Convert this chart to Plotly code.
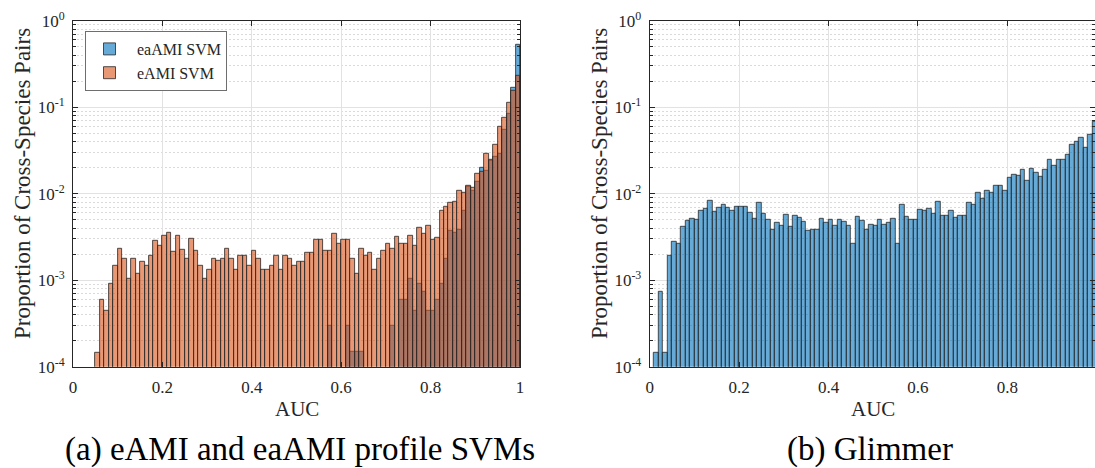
import plotly.graph_objects as go

# ---------------- data ----------------
BIN_WIDTH = 0.01
bin_left = [round(i * BIN_WIDTH, 2) for i in range(100)]

# (a) eAMI SVM (orange) proportions per AUC bin
eami_svm = [
    None, None, None, None, None, 1.47e-4, 6.0e-4, 4.4e-4, 9.0e-4, 1.47e-3,
    2.33e-3, 1.77e-3, 1.03e-3, 1.77e-3, 1.18e-3, 1.65e-3, 1.49e-3, 1.94e-3, 2.84e-3, 2.53e-3,
    3.27e-3, 3.54e-3, 2.12e-3, 3.27e-3, 2.24e-3, 1.77e-3, 2.99e-3, 2.2e-3, 1.47e-3, 1.03e-3,
    1.32e-3, 1.77e-3, 1.67e-3, 1.77e-3, 2.33e-3, 1.77e-3, 1.33e-3, 1.94e-3, 1.94e-3, 1.47e-3,
    2.2e-3, 1.77e-3, 1.32e-3, 1.32e-3, 1.47e-3, 1.94e-3, 1.32e-3, 1.94e-3, 1.76e-3, 1.46e-3,
    1.63e-3, 1.63e-3, 2.08e-3, 2.08e-3, 2.97e-3, 2.97e-3, 2.22e-3, 2.22e-3, 3.43e-3, 2.65e-3,
    2.97e-3, 2.97e-3, 1.78e-3, 1.18e-3, 2.32e-3, 1.93e-3, 2.08e-3, 1.31e-3, 1.78e-3, 2.22e-3,
    2.67e-3, 2.34e-3, 3.22e-3, 2.67e-3, 2.65e-3, 3.25e-3, 2.51e-3, 4.06e-3, 3.43e-3, 4.28e-3,
    2.97e-3, 3.08e-3, 6.43e-3, 7.14e-3, 7.87e-3, 8.01e-3, 1.07e-2, 1.04e-2, 1.24e-2, 1.17e-2,
    1.69e-2, 1.78e-2, 2.9e-2, 2.47e-2, 3.71e-2, 5.95e-2, 7.5e-2, 1.14e-1, 1.56e-1, 2.3e-1,
]

# (a) eaAMI SVM (blue) proportions per AUC bin
eaami_svm = [
    None, None, None, None, None, None, None, None, None, None,
    None, None, None, None, None, None, None, None, None, None,
    None, None, None, None, None, None, None, None, None, None,
    None, None, None, None, None, None, None, None, None, None,
    None, None, None, None, None, None, None, None, None, None,
    None, None, None, None, None, None, None, 2.95e-4, None, None,
    None, 2.95e-4, 1.48e-4, 1.48e-4, 1.48e-4, None, None, None, None, None,
    None, 2.95e-4, None, 5.9e-4, 5.88e-4, 1.03e-3, 4.39e-4, 9.0e-4, 7.4e-4, 4.39e-4,
    4.39e-4, 5.88e-4, 9.0e-4, 1.79e-3, 3.71e-3, 3.51e-3, 3.88e-3, 6.43e-3, 1.2e-2, 1.09e-2,
    1.39e-2, 2.01e-2, 1.83e-2, 2.38e-2, 2.7e-2, 2.9e-2, 5.47e-2, 8.4e-2, 1.67e-1, 5.3e-1,
]

# (b) Glimmer proportions per AUC bin
glimmer = [
    None, 1.46e-4, 7.4e-4, 1.46e-4, 1.93e-3, 2.82e-3, 2.65e-3, 4.12e-3, 4.88e-3, 5.15e-3,
    5.06e-3, 6.43e-3, 6.72e-3, 8.23e-3, 6.25e-3, 6.95e-3, 7.53e-3, 6.95e-3, 6.43e-3, 7.14e-3,
    7.0e-3, 7.14e-3, 6.04e-3, 5.19e-3, 7.8e-3, 5.88e-3, 5.06e-3, 3.85e-3, 4.63e-3, 4.27e-3,
    5.72e-3, 4.16e-3, 5.57e-3, 5.28e-3, 4.8e-3, 3.74e-3, 3.85e-3, 3.85e-3, 5.15e-3, 4.63e-3,
    5.0e-3, 4.27e-3, 5.0e-3, 4.8e-3, 4.27e-3, 2.65e-3, 5.43e-3, 4.9e-3, 3.85e-3, 4.36e-3,
    4.28e-3, 5.01e-3, 4.39e-3, 4.63e-3, 5.1e-3, 2.67e-3, 7.53e-3, 5.47e-3, 5.01e-3, 5.01e-3,
    6.6e-3, 6.43e-3, 6.78e-3, 5.88e-3, 8.01e-3, 5.57e-3, 5.57e-3, 6.37e-3, 5.28e-3, 5.57e-3,
    5.57e-3, 7.8e-3, 7.53e-3, 1.02e-2, 8.68e-3, 1.07e-2, 1.02e-2, 1.24e-2, 1.24e-2, 1.07e-2,
    1.53e-2, 1.67e-2, 1.63e-2, 1.91e-2, 1.41e-2, 1.96e-2, 1.76e-2, 1.58e-2, 1.91e-2, 2.49e-2,
    2.08e-2, 2.49e-2, 2.49e-2, 2.79e-2, 3.67e-2, 3.98e-2, 4.5e-2, 3.4e-2, 4.75e-2, 6.77e-2,
]

x_ticks_a = [0, 0.2, 0.4, 0.6, 0.8, 1]
x_labels_a = ["0", "0.2", "0.4", "0.6", "0.8", "1"]
x_ticks_b = [0, 0.2, 0.4, 0.6, 0.8]
x_labels_b = ["0", "0.2", "0.4", "0.6", "0.8"]
y_ticks = [1e-4, 1e-3, 1e-2, 1e-1, 1]
y_tick_text = ["10<sup>-4</sup>", "10<sup>-3</sup>", "10<sup>-2</sup>", "10<sup>-1</sup>", "10<sup>0</sup>"]
y_minor = [k * 10.0 ** e for e in range(-4, 0) for k in range(2, 10)]

# ---------------- style ----------------
W, H = 1095, 468
FONT = "Liberation Serif"
BLUE = "rgba(0,114,189,0.6)"
ORANGE = "rgba(217,83,25,0.6)"
EDGE = "#262626"
AXC = "#262626"

fig = go.Figure()

fig.add_trace(go.Bar(x=bin_left, y=eaami_svm, width=BIN_WIDTH, offset=0, name="eaAMI SVM",
                     marker=dict(color=BLUE, line=dict(color=EDGE, width=0.8)),
                     xaxis="x", yaxis="y"))
fig.add_trace(go.Bar(x=bin_left, y=eami_svm, width=BIN_WIDTH, offset=0, name="eAMI SVM",
                     marker=dict(color=ORANGE, line=dict(color=EDGE, width=0.8)),
                     xaxis="x", yaxis="y"))
fig.add_trace(go.Bar(x=bin_left, y=glimmer, width=BIN_WIDTH, offset=0, name="Glimmer",
                     marker=dict(color=BLUE, line=dict(color=EDGE, width=0.8)),
                     showlegend=False, xaxis="x2", yaxis="y2"))

# pixel geometry of plot areas
la_l, la_r = 73, 520
rb_l = 649.7
unit_px = la_r - la_l
top_px, bot_px = 20.7, 366.7
ydom = [1 - bot_px / H, 1 - top_px / H]

common_x = dict(showline=True, linecolor=AXC, linewidth=1, mirror="ticks", automargin=False,
                ticks="inside", ticklen=5, tickcolor=AXC, ticklabelstandoff=5,
                showgrid=True, gridcolor="#e2e2e2", gridwidth=1, zeroline=False,
                tickfont=dict(family=FONT, size=17, color="#262626"))
common_y = dict(type="log", range=[-4, 0], showline=True, linecolor=AXC, linewidth=1,
                mirror="ticks", ticks="inside", ticklen=5, tickcolor=AXC, ticklabelstandoff=4,
                automargin=False,
                tickmode="array", tickvals=y_ticks, ticktext=y_tick_text,
                showgrid=True, gridcolor="#e2e2e2", gridwidth=1, zeroline=False,
                tickfont=dict(family=FONT, size=17, color="#262626"),
                minor=dict(tickmode="array", tickvals=y_minor, ticks="inside", ticklen=3,
                           tickcolor=AXC, showgrid=True, gridcolor="#dadada",
                           griddash="2px,2px", gridwidth=1))

fig.update_layout(
    width=W, height=H, autosize=False,
    margin=dict(l=0, r=0, t=0, b=0, pad=0),
    paper_bgcolor="white", plot_bgcolor="white",
    barmode="overlay", bargap=0,
    font=dict(family=FONT, color="#262626"),
    xaxis=dict(domain=[la_l / W, la_r / W], range=[0, 1], tickvals=x_ticks_a,
               ticktext=x_labels_a, anchor="y", **common_x),
    yaxis=dict(domain=ydom, anchor="x", **common_y),
    xaxis2=dict(domain=[rb_l / W, 1.0], range=[0, (W - rb_l) / unit_px], tickvals=x_ticks_b,
                ticktext=x_labels_b, anchor="y2", **common_x),
    yaxis2=dict(domain=ydom, anchor="x2", **common_y),
    legend=dict(x=85 / W, y=1 - 31 / H, xanchor="left", yanchor="top",
                bgcolor="white", bordercolor="#6e6e6e", borderwidth=1,
                font=dict(family=FONT, size=16, color="#262626"),
                itemwidth=45, tracegroupgap=0, indentation=-4),
)

ann = []
# axis titles
for cx in [(la_l + la_r) / 2, (rb_l + rb_l + unit_px) / 2]:
    ann.append(dict(text="AUC", x=cx / W, y=1 - 409 / H, xref="paper", yref="paper",
                    showarrow=False, font=dict(family=FONT, size=21, color="#262626"),
                    xanchor="center", yanchor="middle"))
for cx in [23, 600]:
    ann.append(dict(text="Proportion of Cross-Species Pairs", x=cx / W, y=1 - 184 / H,
                    xref="paper", yref="paper", showarrow=False, textangle=-90,
                    font=dict(family=FONT, size=23, color="#262626"),
                    xanchor="center", yanchor="middle"))
# captions
ann.append(dict(text="(a) eAMI and eaAMI profile SVMs", x=300 / W, y=1 - 449 / H,
                xref="paper", yref="paper", showarrow=False,
                font=dict(family=FONT, size=33, color="black"), xanchor="center", yanchor="middle"))
ann.append(dict(text="(b) Glimmer", x=870 / W, y=1 - 449 / H,
                xref="paper", yref="paper", showarrow=False,
                font=dict(family=FONT, size=33, color="black"), xanchor="center", yanchor="middle"))
fig.update_layout(annotations=ann)

fig.write_html("out.html")
